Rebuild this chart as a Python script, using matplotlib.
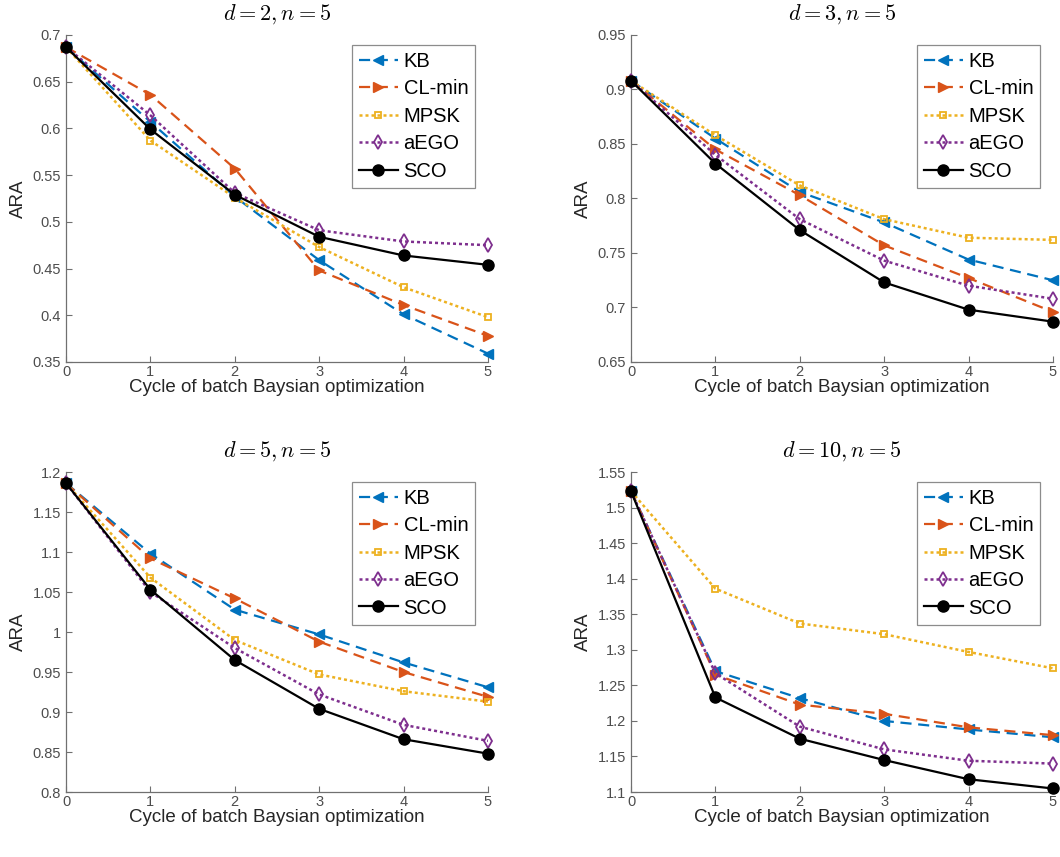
import matplotlib
matplotlib.use("Agg")
import matplotlib.pyplot as plt
import numpy as np

plt.rcParams['font.family'] = ['Liberation Sans', 'DejaVu Sans']
plt.rcParams['mathtext.fontset'] = 'cm'

cycles = [0, 1, 2, 3, 4, 5]
methods = ["KB", "CL-min", "MPSK", "aEGO", "SCO"]
titles = [r"$d=2,n=5$", r"$d=3,n=5$", r"$d=5,n=5$", r"$d=10,n=5$"]

d2_kb = [0.687, 0.607, 0.527, 0.459, 0.401, 0.359]
d2_cl = [0.687, 0.636, 0.557, 0.448, 0.411, 0.378]
d2_mpsk = [0.687, 0.587, 0.526, 0.473, 0.430, 0.398]
d2_aego = [0.687, 0.614, 0.531, 0.491, 0.479, 0.475]
d2_sco = [0.687, 0.599, 0.529, 0.484, 0.464, 0.454]

d3_kb = [0.908, 0.855, 0.806, 0.778, 0.744, 0.725]
d3_cl = [0.908, 0.845, 0.803, 0.757, 0.727, 0.696]
d3_mpsk = [0.908, 0.858, 0.812, 0.781, 0.764, 0.762]
d3_aego = [0.908, 0.840, 0.781, 0.743, 0.720, 0.708]
d3_sco = [0.908, 0.832, 0.771, 0.723, 0.698, 0.687]

d5_kb = [1.186, 1.098, 1.028, 0.997, 0.962, 0.931]
d5_cl = [1.186, 1.092, 1.042, 0.988, 0.950, 0.919]
d5_mpsk = [1.186, 1.068, 0.990, 0.947, 0.926, 0.913]
d5_aego = [1.186, 1.050, 0.980, 0.922, 0.884, 0.864]
d5_sco = [1.186, 1.053, 0.965, 0.904, 0.866, 0.848]

d10_kb = [1.523, 1.270, 1.232, 1.200, 1.188, 1.177]
d10_cl = [1.523, 1.265, 1.223, 1.210, 1.191, 1.180]
d10_mpsk = [1.523, 1.386, 1.337, 1.322, 1.297, 1.274]
d10_aego = [1.523, 1.267, 1.192, 1.160, 1.144, 1.140]
d10_sco = [1.523, 1.233, 1.175, 1.145, 1.118, 1.105]

ylims = [(0.35, 0.7), (0.65, 0.95), (0.8, 1.2), (1.1, 1.55)]
yticks_step = 0.05

panels = [
    [d2_kb, d2_cl, d2_mpsk, d2_aego, d2_sco],
    [d3_kb, d3_cl, d3_mpsk, d3_aego, d3_sco],
    [d5_kb, d5_cl, d5_mpsk, d5_aego, d5_sco],
    [d10_kb, d10_cl, d10_mpsk, d10_aego, d10_sco],
]

styles = [
    dict(color="#0072BD", ls=(0, (5, 3)), marker="<", ms=7, mfc="#0072BD", lw=1.6),
    dict(color="#D95319", ls=(0, (5, 3)), marker=">", ms=7, mfc="#D95319", lw=1.6),
    dict(color="#EDB120", ls=(0, (1.2, 1.2)), marker="s", ms=5, mfc="none", mew=1.3, lw=1.8),
    dict(color="#7E2F8E", ls=(0, (1.2, 1.2)), marker="d", ms=7, mfc="none", mew=1.3, lw=1.8),
    dict(color="black", ls="-", marker="o", ms=8, mfc="black", lw=1.6),
]

fig = plt.figure(figsize=(10.6, 8.57), dpi=100)
positions = [
    [0.0623, 0.5776, 0.398, 0.3816],
    [0.5953, 0.5776, 0.398, 0.3816],
    [0.0623, 0.0758, 0.398, 0.3734],
    [0.5953, 0.0758, 0.398, 0.3734],
]

axcol = '#4d4d4d'
for i, (pos, data) in enumerate(zip(positions, panels)):
    ax = fig.add_axes(pos)
    for name, vals, st in zip(methods, data, styles):
        ax.plot(cycles, vals, label=name, **st, clip_on=False, zorder=3)
    ax.set_xlim(0, 5)
    ax.set_ylim(*ylims[i])
    lo, hi = ylims[i]
    ticks = np.round(np.arange(lo, hi + 1e-9, yticks_step), 2)
    ax.set_yticks(ticks)
    ax.set_yticklabels([f"{t:g}" for t in ticks])
    ax.set_xticks(cycles)
    ax.spines['top'].set_visible(False)
    ax.spines['right'].set_visible(False)
    for s in ['left', 'bottom']:
        ax.spines[s].set_color('#707070')
        ax.spines[s].set_linewidth(0.9)
    ax.tick_params(direction='in', labelsize=10.5, colors='#707070', labelcolor=axcol, length=4)
    ax.tick_params(axis='x', pad=2)
    ax.set_xlabel("Cycle of batch Baysian optimization", fontsize=13.5, color='#262626', labelpad=0)
    ax.set_ylabel("ARA", fontsize=13.5, color='#262626', labelpad=4)
    ax.set_title(titles[i], fontsize=16, pad=11)
    leg = ax.legend(loc='upper right', bbox_to_anchor=(0.97, 0.97), fontsize=14.5,
                    frameon=True, fancybox=False, edgecolor='#707070',
                    handlelength=1.9, handletextpad=0.3, borderpad=0.35, labelspacing=0.42,
                    borderaxespad=0)
    leg.get_frame().set_linewidth(0.9)

fig.savefig("out.png", dpi=100)
